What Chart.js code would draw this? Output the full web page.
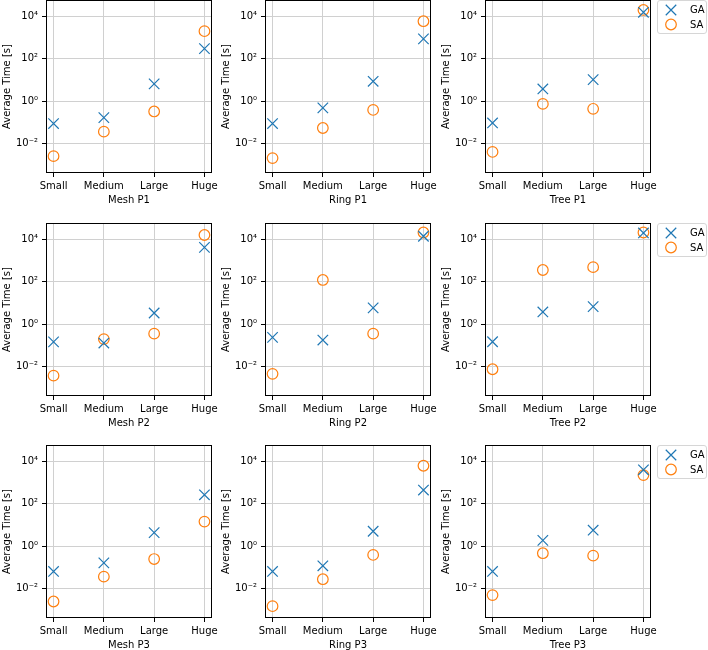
<!DOCTYPE html>
<html>
<head>
<meta charset="utf-8">
<title>Average Time</title>
<script src="https://cdn.jsdelivr.net/npm/chart.js@4/dist/chart.umd.min.js"></script>
<style>
    html, body { margin: 0; padding: 0; background: #fff; }
    body { width: 708px; height: 650px; position: relative; overflow: hidden; }
    canvas { position: absolute; }
</style>
</head>
<body>
<script>
// Data (seconds)
const categories = ['Small', 'Medium', 'Large', 'Huge'];
const panelTitles = ['Mesh P1', 'Ring P1', 'Tree P1', 'Mesh P2', 'Ring P2', 'Tree P2', 'Mesh P3', 'Ring P3', 'Tree P3'];
const yTicks = [1e-2, 1, 1e2, 1e4];
const yTickLabels = ['10\u207B\u00B2', '10\u2070', '10\u00B2', '10\u2074'];
const seriesNames = ['GA', 'SA'];

const gaMeshP1 = [0.089, 0.17, 6.6, 300];
const saMeshP1 = [0.0026, 0.037, 0.33, 2000];
const gaRingP1 = [0.089, 0.49, 8.7, 870];
const saRingP1 = [0.0021, 0.055, 0.39, 5900];
const gaTreeP1 = [0.095, 3.8, 10.5, 15500];
const saTreeP1 = [0.0041, 0.75, 0.44, 20000];

const gaMeshP2 = [0.148, 0.13, 3.4, 4200];
const saMeshP2 = [0.0038, 0.20, 0.36, 16000];
const gaRingP2 = [0.24, 0.18, 5.9, 14000];
const saRingP2 = [0.0046, 122, 0.36, 21000];
const gaTreeP2 = [0.15, 3.8, 6.8, 20000];
const saTreeP2 = [0.0076, 360, 490, 21000];

const gaMeshP3 = [0.065, 0.165, 4.4, 265];
const saMeshP3 = [0.0025, 0.037, 0.25, 14.5];
const gaRingP3 = [0.065, 0.12, 5.1, 445];
const saRingP3 = [0.0015, 0.028, 0.39, 6200];
const gaTreeP3 = [0.065, 1.9, 5.7, 4000];
const saTreeP3 = [0.005, 0.47, 0.36, 2250];

const gaSeries = [gaMeshP1, gaRingP1, gaTreeP1, gaMeshP2, gaRingP2, gaTreeP2, gaMeshP3, gaRingP3, gaTreeP3];
const saSeries = [saMeshP1, saRingP1, saTreeP1, saMeshP2, saRingP2, saTreeP2, saMeshP3, saRingP3, saTreeP3];

(function() {
    'use strict';

    const BLUE = '#1f77b4';
    const ORANGE = '#ff7f0e';
    const GRID = '#d0d0d0';

    // layout of the plot areas (page pixels)
    const colLeft = [46, 265, 485];
    const rowTop = [0, 223, 445];
    const plotW = 166;
    const plotH = 173;
    const yAxisW = 46;
    const xAxisH = 34;
    const padTop = 14;   // larger than the tick label half height, so it wins

    Chart.defaults.font.family = "'DejaVu Sans', sans-serif";
    Chart.defaults.font.size = 10;
    Chart.defaults.color = '#000';

    // black frame round the plot area
    const framePlugin = {
        id: 'frame',
        afterDraw(chart) {
            const a = chart.chartArea;
            const ctx = chart.ctx;
            ctx.save();
            ctx.strokeStyle = '#000';
            ctx.lineWidth = 1;
            ctx.strokeRect(Math.round(a.left) + 0.5, Math.round(a.top) + 0.5,
                Math.round(a.right - a.left) - 1, Math.round(a.bottom - a.top) - 1);
            ctx.restore();
        }
    };

    // matplotlib-like legend box to the right of the plot
    const sideLegendPlugin = {
        id: 'sideLegend',
        afterDraw(chart, args, opts) {
            if (!opts.display) return;
            const a = chart.chartArea;
            const ctx = chart.ctx;
            const x0 = a.right + 6.5, y0 = a.top + 0.5, w = 49, h = 33, r = 2.5;
            ctx.save();
            ctx.beginPath();
            ctx.moveTo(x0 + r, y0);
            ctx.arcTo(x0 + w, y0, x0 + w, y0 + h, r);
            ctx.arcTo(x0 + w, y0 + h, x0, y0 + h, r);
            ctx.arcTo(x0, y0 + h, x0, y0, r);
            ctx.arcTo(x0, y0, x0 + w, y0, r);
            ctx.closePath();
            ctx.fillStyle = 'rgba(255,255,255,0.8)';
            ctx.fill();
            ctx.strokeStyle = '#d6d6d6';
            ctx.lineWidth = 1;
            ctx.stroke();

            chart.data.datasets.forEach(function(ds, i) {
                const my = y0 + 9.5 + i * 14.5;
                const mx = x0 + 13.5;
                ctx.strokeStyle = ds.borderColor;
                ctx.fillStyle = 'rgba(0,0,0,0)';
                ctx.lineWidth = ds.borderWidth;
                Chart.helpers.drawPoint(ctx, {
                    pointStyle: ds.pointStyle,
                    radius: ds.pointRadius,
                    rotation: 0,
                    borderWidth: ds.borderWidth
                }, mx, my);
                ctx.fillStyle = '#000';
                ctx.font = "10px 'DejaVu Sans'";
                ctx.textBaseline = 'middle';
                ctx.textAlign = 'left';
                ctx.fillText(ds.label, x0 + 32.5, my + 0.5);
            });
            ctx.restore();
        }
    };

    function makePanel(idx) {
        const row = Math.floor(idx / 3);
        const col = idx % 3;
        const isLast = col === 2;
        const padRight = isLast ? 708 - (colLeft[col] + plotW) : 14;

        const canvas = document.createElement('canvas');
        const cw = yAxisW + plotW + padRight;
        const ch = padTop + plotH + xAxisH;
        canvas.width = cw;
        canvas.height = ch;
        canvas.style.width = cw + 'px';
        canvas.style.height = ch + 'px';
        canvas.style.left = (colLeft[col] - yAxisW) + 'px';
        canvas.style.top = (rowTop[row] - padTop) + 'px';
        document.body.appendChild(canvas);

        const toPoints = function(values) {
            return values.map(function(v, i) { return { x: i, y: v }; });
        };

        new Chart(canvas, {
            type: 'scatter',
            data: {
                datasets: [
                    {
                        label: seriesNames[0],
                        data: toPoints(gaSeries[idx]),
                        pointStyle: 'crossRot',
                        pointRadius: 7.4,
                        pointHoverRadius: 7.4,
                        borderColor: BLUE,
                        backgroundColor: BLUE,
                        borderWidth: 1.2
                    },
                    {
                        label: seriesNames[1],
                        data: toPoints(saSeries[idx]),
                        pointStyle: 'circle',
                        pointRadius: 5.3,
                        pointHoverRadius: 5.3,
                        borderColor: ORANGE,
                        backgroundColor: 'rgba(0,0,0,0)',
                        borderWidth: 1.2
                    }
                ]
            },
            options: {
                responsive: false,
                animation: false,
                devicePixelRatio: 1,
                events: [],
                layout: {
                    padding: { top: padTop, right: padRight, left: 0, bottom: 0 }
                },
                plugins: {
                    legend: { display: false },
                    tooltip: { enabled: false },
                    sideLegend: { display: isLast }
                },
                scales: {
                    x: {
                        type: 'linear',
                        min: -0.15,
                        max: 3.15,
                        afterBuildTicks: function(scale) {
                            scale.ticks = categories.map(function(c, i) { return { value: i }; });
                        },
                        afterFit: function(scale) {
                            scale.height = xAxisH;
                            scale.paddingLeft = 0;
                            scale.paddingRight = 0;
                        },
                        ticks: {
                            padding: 3,
                            maxRotation: 0,
                            autoSkip: false,
                            callback: function(value) { return categories[value]; }
                        },
                        grid: {
                            color: GRID,
                            lineWidth: 1,
                            tickColor: '#000',
                            tickLength: 4
                        },
                        border: { display: false },
                        title: {
                            display: true,
                            text: panelTitles[idx],
                            padding: { top: 0, bottom: 1 }
                        }
                    },
                    y: {
                        type: 'logarithmic',
                        min: Math.pow(10, -3.38),
                        max: Math.pow(10, 4.77),
                        afterBuildTicks: function(scale) {
                            scale.ticks = yTicks.map(function(v) { return { value: v, major: true }; });
                        },
                        afterFit: function(scale) {
                            scale.width = yAxisW;
                            scale.paddingTop = 0;
                            scale.paddingBottom = 0;
                        },
                        ticks: {
                            padding: 4,
                            autoSkip: false,
                            callback: function(value) {
                                const k = yTicks.indexOf(value);
                                return k >= 0 ? yTickLabels[k] : '';
                            }
                        },
                        grid: {
                            color: GRID,
                            lineWidth: 1,
                            tickColor: '#000',
                            tickLength: 4
                        },
                        border: { display: false },
                        title: {
                            display: true,
                            text: 'Average Time [s]',
                            padding: { top: 1, bottom: 0 }
                        }
                    }
                }
            },
            plugins: [framePlugin, sideLegendPlugin]
        });
    }

    for (let i = 0; i < panelTitles.length; i++) {
        makePanel(i);
    }
})();
</script>
</body>
</html>
